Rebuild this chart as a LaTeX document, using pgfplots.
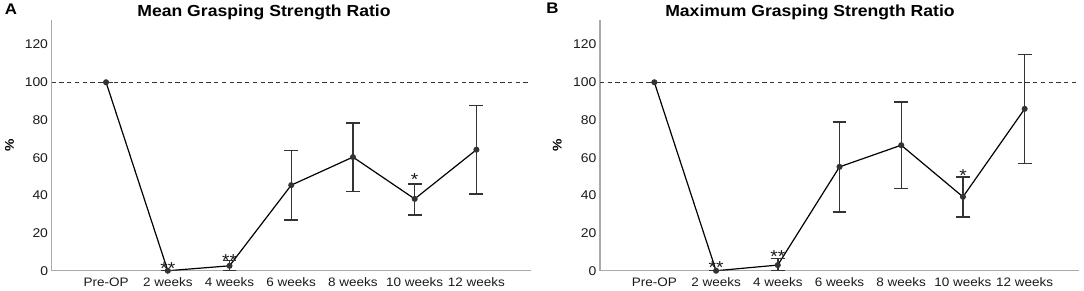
\documentclass[border=0pt]{standalone}
\usepackage{pgfplots}
\pgfplotsset{compat=1.18}
\usepackage{pgfplotstable}
\usepackage{fontspec}
\setmainfont{Liberation Sans}[FakeStretch=1.1]
\definecolor{axgray}{HTML}{AAAAAA}
\definecolor{ink}{HTML}{1A1A1A}
\definecolor{ebar}{HTML}{333333}

% x  y  plus  minus
\pgfplotstableread{
x y ep em
0 100 0 0
1 0 0 0
2 2.6 2.8 2.6
3 45.4 18.4 18.4
4 60.3 18.1 18.4
5 38.1 8.0 8.5
6 64.2 23.4 23.6
}\meanA
\pgfplotstableread{
x y ep em
0 100 0 0
1 0 0 0
2 3.0 3.4 3.0
3 55.1 23.9 24.0
4 66.6 23.0 22.9
5 39.2 10.6 10.6
6 85.9 28.9 29.0
}\maxB

\tikzset{sigstar/.style={anchor=base, inner sep=0pt, font=\fontsize{13}{13}\selectfont, text=ink}}

\pgfplotsset{
  panel/.style={
    scale only axis,
    width=359.25pt, height=188pt,
    anchor=south west,
    xmin=-0.88, xmax=6.88,
    ymin=0, ymax=133,
    axis x line*=bottom, axis y line*=left,
    axis line style={axgray, line width=0.8pt},
    xtick={0,...,6},
    xticklabels={Pre-OP,2 weeks,4 weeks,6 weeks,8 weeks,10 weeks,12 weeks},
    ytick={0,20,...,120},
    major tick length=0pt,
    tick style={draw=none},
    /pgf/number format/assume math mode=true,
    xticklabel style={font=\fontsize{9.2}{10}\selectfont, text=ink, anchor=base, inner sep=0pt, yshift=-11.5pt},
    yticklabel style={font=\fontsize{9.5}{10}\selectfont, text=ink, anchor=east, inner sep=0pt, xshift=-2.6pt},
    clip=false,
  },
  dataline/.style={
    black, line width=0.9pt,
    mark=*, mark size=1.8pt, mark options={fill=ebar, draw=ebar},
    error bars/.cd, y dir=both, y explicit,
    error bar style={ebar, line width=1.1pt},
    error mark options={rotate=90, mark size=5.2pt, ebar, line width=1.1pt},
  },
}

\begin{document}
\begin{tikzpicture}
\useasboundingbox (0,0) rectangle (813pt,218.25pt);
% Panel A
\node[anchor=base west, inner sep=0pt, font=\bfseries\fontsize{11.5}{12}\selectfont] at (3.4pt,207.5pt) {A};
\node[anchor=base, inner sep=0pt, font=\bfseries\fontsize{12}{14}\selectfont] at (198pt,205.7pt) {Mean Grasping Strength Ratio};
\node[rotate=90, inner sep=0pt, font=\bfseries\fontsize{9.5}{10}\selectfont] at (7.2pt,109.5pt) {\%};
\begin{axis}[panel, at={(38.8pt,15.2pt)}]
  \addplot[ebar, line width=0.8pt, dash pattern=on 3.2pt off 2.6pt, forget plot] coordinates {(-0.88,100) (6.88,100)};
  \addplot[dataline] table[x=x, y=y, y error plus=ep, y error minus=em] {\meanA};
  \node[sigstar] at (axis cs:1,-2.0) {**};
  \node[sigstar] at (axis cs:2,2.4) {**};
  \node[sigstar] at (axis cs:5,45.0) {*};
\end{axis}
% Panel B
\node[anchor=base west, inner sep=0pt, font=\bfseries\fontsize{11.5}{12}\selectfont] at (409.5pt,208pt) {B};
\node[anchor=base, inner sep=0pt, font=\bfseries\fontsize{12}{14}\selectfont] at (607.5pt,205.7pt) {Maximum Grasping Strength Ratio};
\node[rotate=90, inner sep=0pt, font=\bfseries\fontsize{9.5}{10}\selectfont] at (418pt,109.5pt) {\%};
\begin{axis}[panel, at={(450pt,15.2pt)}]
  \addplot[ebar, line width=0.8pt, dash pattern=on 3.2pt off 2.6pt, forget plot] coordinates {(-0.88,100) (6.88,100)};
  \addplot[dataline] table[x=x, y=y, y error plus=ep, y error minus=em] {\maxB};
  \node[sigstar] at (axis cs:1,-1.7) {**};
  \node[sigstar] at (axis cs:2,4.5) {**};
  \node[sigstar] at (axis cs:5,47.5) {*};
\end{axis}
\end{tikzpicture}
\end{document}
